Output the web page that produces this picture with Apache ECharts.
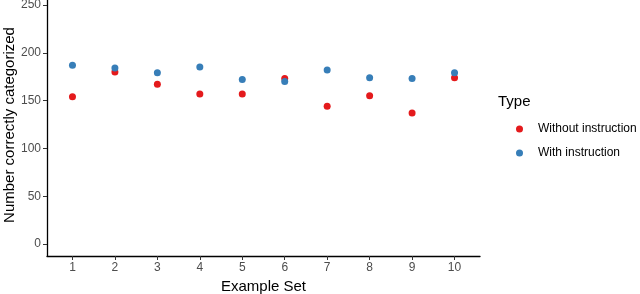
<!DOCTYPE html>
<html><head><meta charset="utf-8">
<script src="https://cdn.jsdelivr.net/npm/echarts@6/dist/echarts.min.js"></script>
<style>html,body{margin:0;padding:0;background:#fff}#c{width:640px;height:294px}</style>
</head><body><div id="c"></div>
<script>
const exampleSets = [1,2,3,4,5,6,7,8,9,10];
const withoutInstruction = [154,180,167,157,157,173,144,155,137,174];
const withInstruction = [187,184,179,185,172,170,182,174,173,179];
const yTicks = [0,50,100,150,200,250];
const seriesNames = ['Without instruction','With instruction'];
const colors = ['#E41A1C','#377EB8'];
const font = '"Liberation Sans", Arial, sans-serif';

const chart = echarts.init(document.getElementById('c'), null, {renderer:'canvas'});
chart.setOption({
  animation:false,
  textStyle:{fontFamily:font},
  grid:{left:47,right:160,top:-7,bottom:38,containLabel:false,outerBoundsMode:'none'},
  xAxis:{type:'value',min:0.4,max:10.6,
    name:'Example Set',nameLocation:'middle',nameGap:22,
    nameTextStyle:{fontSize:15,color:'#000',fontFamily:font},
    axisLine:{show:true,onZero:false,lineStyle:{color:'#000',width:1.3}},
    axisTick:{show:true,length:4,customValues:exampleSets,lineStyle:{color:'#333'}},
    axisLabel:{customValues:exampleSets,color:'#4D4D4D',fontSize:12,margin:6,fontFamily:font},
    splitLine:{show:false}},
  yAxis:{type:'value',min:-12.5,max:262.5,
    axisLine:{show:true,onZero:false,lineStyle:{color:'#000',width:1.3}},
    axisTick:{show:true,length:4,customValues:yTicks,lineStyle:{color:'#333'}},
    axisLabel:{customValues:yTicks,color:'#4D4D4D',fontSize:12,margin:6,fontFamily:font},
    splitLine:{show:false}},
  legend:{orient:'vertical',left:511,top:118,itemGap:12,icon:'circle',itemWidth:7,itemHeight:7,
    textStyle:{fontSize:12,color:'#000',fontFamily:font,padding:[0,0,0,10]},
    data:seriesNames},
  graphic:[
    {type:'text',left:498,top:94,style:{text:'Type',fontSize:15,fill:'#000',fontFamily:font}},
    {type:'text',x:10,y:125,rotation:Math.PI/2,
     style:{text:'Number correctly categorized',fontSize:15,fill:'#000',fontFamily:font,align:'center',verticalAlign:'middle'}}
  ],
  series:[
    {name:seriesNames[0],type:'scatter',symbolSize:7,itemStyle:{color:colors[0],opacity:1},
     data:exampleSets.map((x,i)=>[x,withoutInstruction[i]])},
    {name:seriesNames[1],type:'scatter',symbolSize:7,itemStyle:{color:colors[1],opacity:1},
     data:exampleSets.map((x,i)=>[x,withInstruction[i]])}
  ]
});
</script></body></html>
